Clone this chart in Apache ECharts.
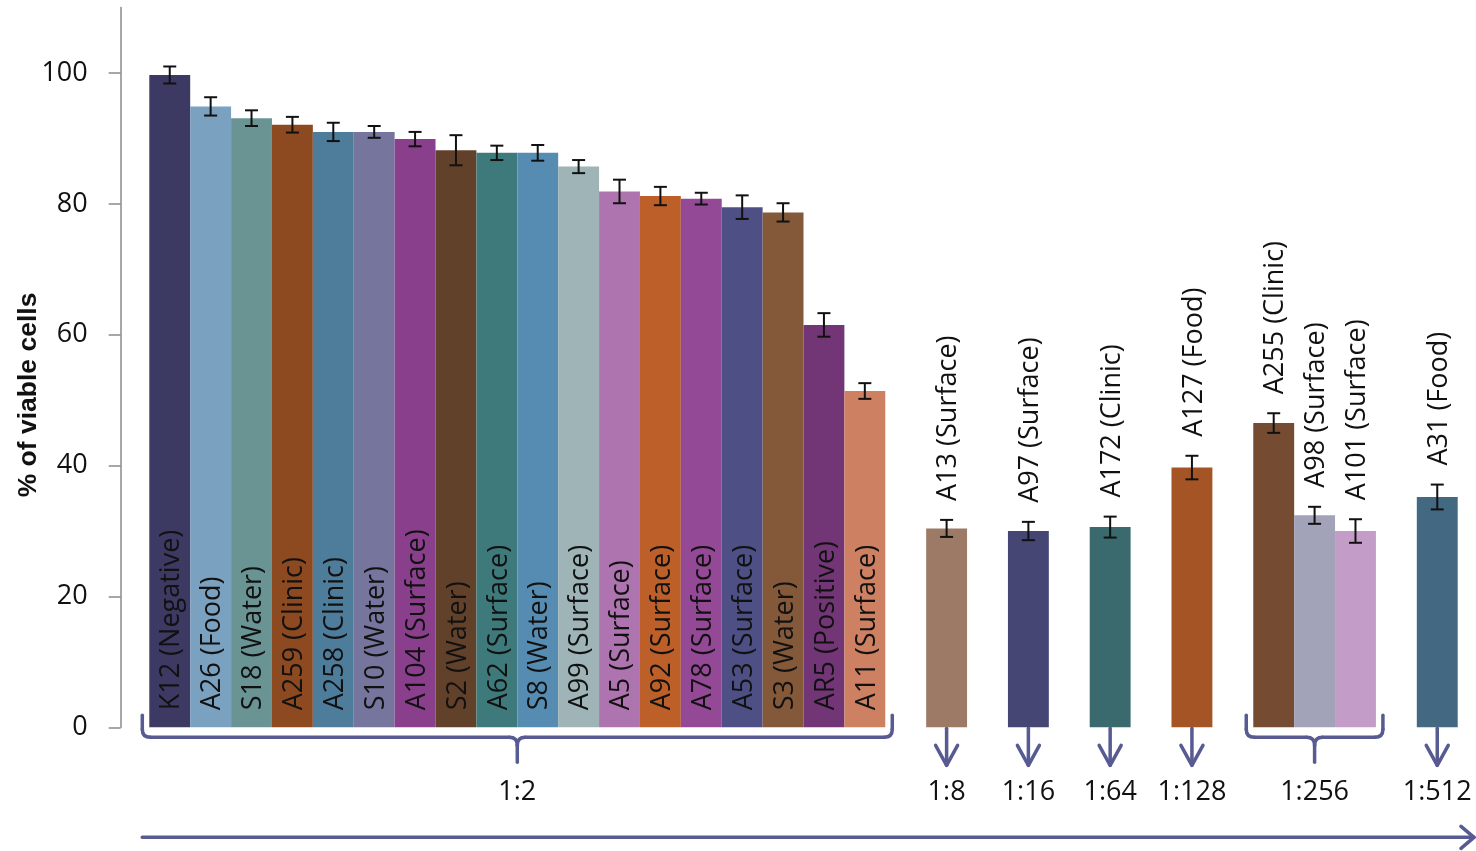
<!DOCTYPE html>
<html>
<head>
<meta charset="utf-8">
<title>% of viable cells by strain and dilution</title>
<script src="https://cdn.jsdelivr.net/npm/echarts@6/dist/echarts.min.js"></script>
<style>
  html, body { margin: 0; padding: 0; background: #ffffff; }
  #chart { width: 1476px; height: 851px; }
</style>
</head>
<body>
<div id="chart"></div>
<script>
// Strains, ordered as plotted
const strains = [
  'K12 (Negative)', 'A26 (Food)', 'S18 (Water)', 'A259 (Clinic)', 'A258 (Clinic)',
  'S10 (Water)', 'A104 (Surface)', 'S2 (Water)', 'A62 (Surface)', 'S8 (Water)',
  'A99 (Surface)', 'A5 (Surface)', 'A92 (Surface)', 'A78 (Surface)', 'A53 (Surface)',
  'S3 (Water)', 'AR5 (Positive)', 'A11 (Surface)',
  'A13 (Surface)', 'A97 (Surface)', 'A172 (Clinic)', 'A127 (Food)',
  'A255 (Clinic)', 'A98 (Surface)', 'A101 (Surface)', 'A31 (Food)'
];
// Mean % of viable cells
const viability = [
  99.7, 94.9, 93.1, 92.1, 91.0, 91.0, 89.9, 88.2, 87.8, 87.8,
  85.7, 81.9, 81.2, 80.8, 79.5, 78.7, 61.5, 51.4,
  30.4, 30.0, 30.6, 39.7, 46.5, 32.4, 30.0, 35.2
];
// Error bar half-lengths
const sem = [
  1.3, 1.4, 1.2, 1.2, 1.4, 0.9, 1.1, 2.3, 1.1, 1.2,
  1.0, 1.8, 1.4, 0.9, 1.8, 1.4, 1.8, 1.2,
  1.3, 1.4, 1.6, 1.8, 1.5, 1.3, 1.8, 1.9
];
// Dilution groups and the group each strain belongs to
const dilutions = ['1:2', '1:8', '1:16', '1:64', '1:128', '1:256', '1:512'];
const dilutionOf = [
  0, 0, 0, 0, 0, 0, 0, 0, 0, 0, 0, 0, 0, 0, 0, 0, 0, 0,
  1, 2, 3, 4, 5, 5, 5, 6
];
const barColors = [
  '#3c3a62', '#7aa1bf', '#6a9394', '#8d4920', '#4e7c9b',
  '#76759e', '#893f8b', '#62412b', '#3e7a7b', '#568cb1',
  '#9eb4b6', '#ae74af', '#bc5f29', '#944997', '#4e5085',
  '#83593a', '#723676', '#cd8062',
  '#9d7a66', '#454673', '#3a6a6e', '#a55426',
  '#754c32', '#a2a2b8', '#c39dc8', '#436882'
];
const yTicks = [0, 20, 40, 60, 80, 100];
const yTitle = '% of viable cells';

// One empty category slot separates consecutive dilution groups
const slotOf = [];
const categories = [];
strains.forEach((name, i) => {
  if (i > 0 && dilutionOf[i] !== dilutionOf[i - 1]) categories.push('');
  slotOf.push(categories.length);
  categories.push(name);
});

const barData = categories.map(() => '-');
strains.forEach((name, i) => {
  barData[slotOf[i]] = { value: viability[i], itemStyle: { color: barColors[i] } };
});
const errData = strains.map((name, i) => [slotOf[i], viability[i], sem[i]]);

const FONT = "'Open Sans', 'Liberation Sans', sans-serif";
const TEXT = '#111111';
const GUIDE = '#585a92';

const chart = echarts.init(document.getElementById('chart'), null, { renderer: 'canvas' });

chart.setOption({
  animation: false,
  backgroundColor: '#ffffff',
  grid: { left: 149.3, right: 18.3, top: 7.6, bottom: 123.7 },
  xAxis: {
    type: 'category',
    data: categories,
    show: false,
    boundaryGap: true
  },
  yAxis: {
    type: 'value',
    min: 0,
    max: 110,
    interval: 20,
    offset: 28.6,
    axisLine: { show: true, lineStyle: { color: '#8a8a8a', width: 1.5 } },
    axisTick: { show: true, length: 12, customValues: yTicks, lineStyle: { color: '#8a8a8a', width: 1.5 } },
    axisLabel: { customValues: yTicks, margin: 33, fontSize: 27, fontFamily: FONT, color: TEXT },
    splitLine: { show: false }
  },
  series: [
    {
      type: 'bar',
      data: barData,
      barWidth: '100%',
      barGap: '0%'
    },
    {
      // error bars and rotated strain names
      type: 'custom',
      data: errData,
      encode: { x: 0, y: 1 },
      z: 3,
      renderItem(params, api) {
        const i = params.dataIndex;
        const slot = api.value(0);
        const v = api.value(1);
        const e = api.value(2);
        const top = api.coord([slot, v + e]);
        const bot = api.coord([slot, v - e]);
        const base = api.coord([slot, 0]);
        const cap = 6.5;
        const stroke = { stroke: '#111111', lineWidth: 2 };
        const inside = dilutionOf[i] === 0;
        return {
          type: 'group',
          children: [
            { type: 'line', shape: { x1: top[0], y1: top[1], x2: bot[0], y2: bot[1] }, style: stroke },
            { type: 'line', shape: { x1: top[0] - cap, y1: top[1], x2: top[0] + cap, y2: top[1] }, style: stroke },
            { type: 'line', shape: { x1: bot[0] - cap, y1: bot[1], x2: bot[0] + cap, y2: bot[1] }, style: stroke },
            {
              type: 'text',
              x: base[0] + 2,
              y: inside ? base[1] - 17 : top[1] - 19,
              rotation: Math.PI / 2,
              style: {
                text: strains[i],
                fill: TEXT,
                fontSize: 27,
                fontFamily: FONT,
                align: 'left',
                verticalAlign: 'middle'
              }
            }
          ]
        };
      }
    }
  ]
});

// Dilution brackets / arrows, labels and the direction arrow beneath the axis
function drawGuides() {
  const px = (slot, val) => chart.convertToPixel({ gridIndex: 0 }, [slot, val]);
  const half = (px(1, 0)[0] - px(0, 0)[0]) / 2;
  const baseY = px(0, 0)[1];
  const lineStyle = { stroke: GUIDE, lineWidth: 3.5, fill: null, lineJoin: 'round', lineCap: 'round' };
  const elements = [];
  const seg = (x1, y1, x2, y2) => ({ type: 'line', silent: true, shape: { x1, y1, x2, y2 }, style: lineStyle });
  const curve = (x1, y1, cpx1, cpy1, x2, y2) => ({
    type: 'bezierCurve', silent: true, shape: { x1, y1, cpx1, cpy1, x2, y2 }, style: lineStyle
  });
  const head = (pts) => ({ type: 'polyline', silent: true, shape: { points: pts }, style: lineStyle });

  dilutions.forEach((label, d) => {
    const slots = slotOf.filter((s, i) => dilutionOf[i] === d);
    const left = px(slots[0], 0)[0] - half;
    const right = px(slots[slots.length - 1], 0)[0] + half;
    const c = (left + right) / 2;
    if (slots.length > 1) {
      const L = left - 7, R = right + 7;
      const yTop = baseY - 12, yH = baseY + 10, yEnd = baseY + 35, r = 8;
      elements.push(
        seg(L, yTop, L, yH - r),
        curve(L, yH - r, L, yH, L + r, yH),
        seg(L + r, yH, c - r, yH),
        curve(c - r, yH, c, yH, c, yH + r),
        seg(c, yH + r, c, yEnd),
        curve(c, yH + r, c, yH, c + r, yH),
        seg(c + r, yH, R - r, yH),
        curve(R - r, yH, R, yH, R, yH - r),
        seg(R, yH - r, R, yTop)
      );
    } else {
      const tip = baseY + 38;
      elements.push(
        seg(c, baseY + 1, c, tip),
        head([[c - 11, tip - 20], [c, tip], [c + 11, tip - 20]])
      );
    }
    elements.push({
      type: 'text', x: c, y: baseY + 65, silent: true,
      style: { text: label, fill: TEXT, fontSize: 27, fontFamily: FONT, align: 'center', verticalAlign: 'middle' }
    });
  });

  const firstLeft = px(0, 0)[0] - half - 7;
  const arrowY = baseY + 110;
  const arrowEnd = 1474;
  elements.push(
    seg(firstLeft, arrowY, arrowEnd, arrowY),
    head([[arrowEnd - 13, arrowY - 11], [arrowEnd, arrowY], [arrowEnd - 13, arrowY + 11]])
  );

  elements.push({
    type: 'text', x: 29, y: 395, rotation: Math.PI / 2, silent: true,
    style: {
      text: yTitle, fill: '#111111', fontSize: 26.5, fontWeight: 'bold',
      fontFamily: "'Liberation Sans', Arial, sans-serif", align: 'center', verticalAlign: 'middle'
    }
  });

  chart.setOption({ graphic: { elements } });
}

drawGuides();
</script>
</body>
</html>
